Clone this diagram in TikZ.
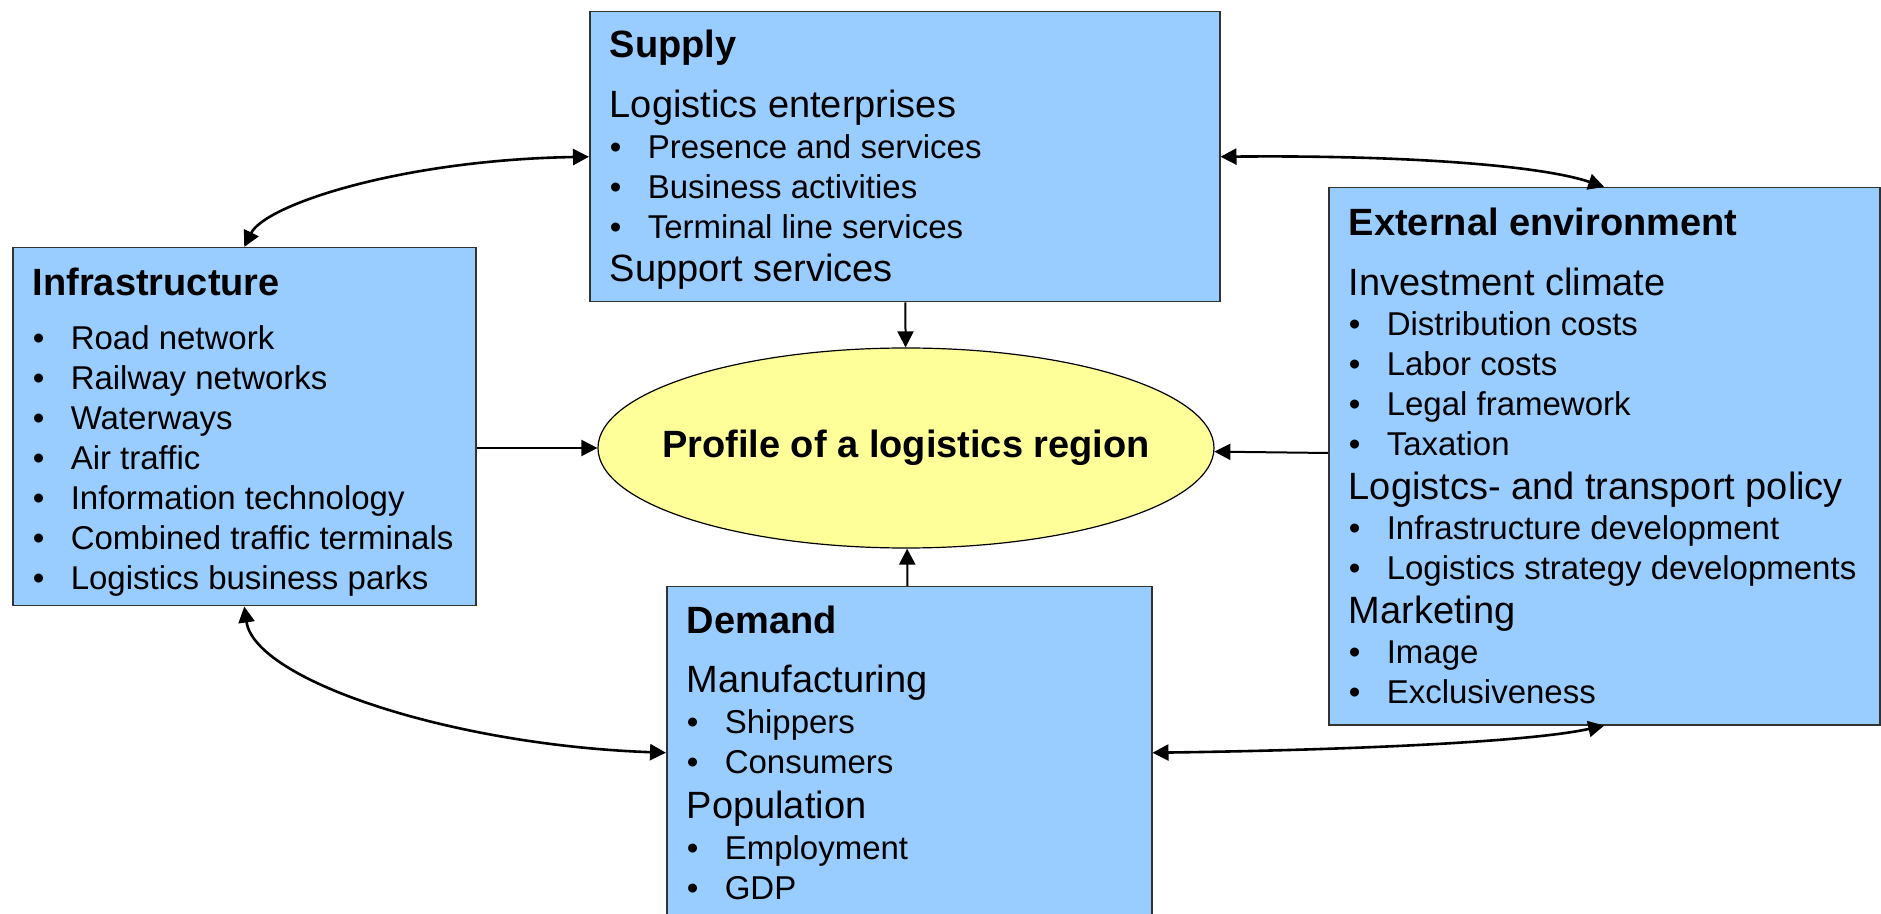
\documentclass[tikz,border=0pt]{standalone}
\usepackage{fontspec}
\setmainfont{Liberation Sans}
\usepackage{enumitem}
\usepackage{tikz}
\usetikzlibrary{arrows.meta,shapes.geometric}
\usetikzlibrary{positioning}
\definecolor{factorblue}{HTML}{99CCFF}
\definecolor{profileyellow}{HTML}{FFFF99}
\newcommand{\factortitle}{\fontsize{19pt}{20pt}\selectfont\bfseries}
\newcommand{\factorsub}{\fontsize{19pt}{20pt}\selectfont}
\setlist[itemize]{nosep,leftmargin=29pt,labelindent=10pt,labelwidth=19pt,labelsep=0pt,align=left,label=\textbullet}
\tikzset{
    factor/.style={
           rectangle,
           draw=black!80, line width=0.75pt,
           fill=factorblue,
           inner sep=0pt,
           anchor=north west,
           font=\fontsize{16.5pt}{20pt}\selectfont},
    profile/.style={
           ellipse,
           draw=black, line width=0.6pt,
           fill=profileyellow,
           inner sep=0pt,
           minimum width=308pt, minimum height=100pt,
           font=\fontsize{19pt}{20pt}\selectfont\bfseries},
    feed/.style={line width=1pt, -{Triangle[length=8pt,width=8pt]}},
    link/.style={line width=1.3pt, {Triangle[length=8pt,width=8pt]}-{Triangle[length=8pt,width=8pt]}},
}

\begin{document}
\begin{tikzpicture}[x=0.5pt,y=-0.5pt]

 \useasboundingbox (0,0) rectangle (1881,914);

 \node[factor] (SUPPLY) at (589,11)
 {\parbox[c][145pt][t]{315pt}{\raggedright\leftskip=10pt
  \mbox{}\par\vspace{3pt}
  {\factortitle Supply\par}\vspace{10pt}
  {\factorsub Logistics enterprises\par}\vspace{0.5pt}
  \begin{itemize}
   \item Presence and services
   \item Business activities
   \item Terminal line services
  \end{itemize}\vspace{1.5pt}
  {\factorsub Support services\par}
 }};

 \node[factor] (INFRASTRUCTURE) at (12,247)
 {\parbox[c][179pt][t]{231.5pt}{\raggedright\leftskip=10pt
  \mbox{}\par\vspace{4pt}
  {\factortitle Infrastructure\par}\vspace{7pt}
  \begin{itemize}
   \item Road network
   \item Railway networks
   \item Waterways
   \item Air traffic
   \item Information technology
   \item Combined traffic terminals
   \item Logistics business parks
  \end{itemize}
 }};

 \node[factor] (EXTERNAL) at (1328,187)
 {\parbox[c][268.5pt][t]{275.5pt}{\raggedright\leftskip=10pt
  \mbox{}\par\vspace{4pt}
  {\factortitle External environment\par}\vspace{10pt}
  {\factorsub Investment climate\par}
  \begin{itemize}
   \item Distribution costs
   \item Labor costs
   \item Legal framework
   \item Taxation
  \end{itemize}\vspace{2pt}
  {\factorsub Logistcs- and transport policy\par}
  \begin{itemize}
   \item Infrastructure development
   \item Logistics strategy developments
  \end{itemize}\vspace{2pt}
  {\factorsub Marketing\par}
  \begin{itemize}
   \item Image
   \item Exclusiveness
  \end{itemize}
 }};

 \node[factor] (DEMAND) at (666,586)
 {\parbox[c][166pt][t]{242.5pt}{\raggedright\leftskip=10pt
  \mbox{}\par\vspace{3.5pt}
  {\factortitle Demand\par}\vspace{9.5pt}
  {\factorsub Manufacturing\par}\vspace{0.5pt}
  \begin{itemize}
   \item Shippers
   \item Consumers
  \end{itemize}\vspace{2.5pt}
  {\factorsub Population\par}\vspace{0.5pt}
  \begin{itemize}
   \item Employment
   \item GDP
  \end{itemize}
 }};

 \node[profile] (PROFILE) at (906,448) {\makebox[0pt]{Profile of a logistics region}};

 \path[feed]
 (SUPPLY) edge (PROFILE)
 (DEMAND) edge (PROFILE)
 (EXTERNAL) edge (PROFILE)
 (INFRASTRUCTURE.east |- PROFILE) edge (PROFILE);

 \draw[link] (INFRASTRUCTURE.north) .. controls (265,205) and (400,160) .. (SUPPLY.west);
 \draw[link] (SUPPLY.east) .. controls (1400,155) and (1540,165) .. (EXTERNAL.north);
 \draw[link] (INFRASTRUCTURE.south) .. controls (255,680) and (450,745) .. (DEMAND.west);
 \draw[link] (DEMAND.east) .. controls (1350,750) and (1530,742) .. (EXTERNAL.south);

\end{tikzpicture}
\end{document}
